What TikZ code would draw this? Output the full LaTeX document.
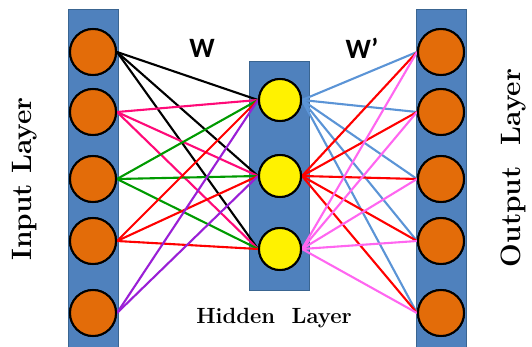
\documentclass[tikz,border=0pt]{standalone}
\usepackage{fontspec}
\usepackage{tikz}
\usetikzlibrary{positioning}
\newfontfamily\wfont{Carlito}
\definecolor{colfill}{HTML}{4F81BD}
\definecolor{colline}{HTML}{3A6591}
\definecolor{nodeorange}{HTML}{E36C09}
\definecolor{edgepink}{HTML}{FF0A78}
\definecolor{edgegreen}{HTML}{009A00}
\definecolor{edgepurple}{HTML}{9A1FD6}
\definecolor{edgeblue}{HTML}{5B94D6}
\definecolor{edgeviolet}{HTML}{FF66F0}

\begin{document}
\begin{tikzpicture}[x=1pt,y=-1pt]
\tikzstyle{col}=[draw=colline,fill=colfill,line width=1pt]
\tikzstyle{unit}=[circle,draw=black,line width=2pt,fill=nodeorange,minimum size=46pt,inner sep=0pt]
\tikzstyle{hunit}=[circle,draw=black,line width=2pt,fill=yellow,minimum size=42pt,inner sep=0pt]
\tikzstyle{wire}=[line width=2.1pt]
\tikzstyle{lbl}=[font=\bfseries\fontsize{28}{28}\selectfont,rotate=90]
\useasboundingbox (0,0) rectangle (532,347);
% columns
\draw[col] (68,10) rectangle (118,347);
\draw[col] (249,62) rectangle (309,290);
\draw[col] (416,10) rectangle (466,347);
% units
\foreach \i/\y in {1/52,2/112,3/179,4/241,5/313} {
  \coordinate (pin\i) at (93,\y);
  \coordinate (pout\i) at (441,\y);
}
\foreach \j/\y in {1/100,2/176,3/249}
  \coordinate (phid\j) at (280,\y);
\foreach \i in {1,...,5} {
  \node[unit] (in\i) at (pin\i) {};
  \node[unit] (out\i) at (pout\i) {};
}
\foreach \j in {1,2,3}
  \node[hunit] (hid\j) at (phid\j) {};
% weights W
\foreach \i/\c in {1/black,2/edgepink,3/edgegreen,4/red}
  \foreach \j in {1,2,3}
    \draw[wire,\c] (in\i.east) -- (hid\j.west);
\foreach \j in {1,2}
  \draw[wire,edgepurple] (in5.east) -- (hid\j.west);
% weights W'
\foreach \j/\c in {1/edgeblue,2/red,3/edgeviolet}
  \foreach \i in {1,...,5}
    \draw[wire,\c] (hid\j.east) -- (out\i.west);
% redraw units on top
\foreach \i in {1,...,5} {
  \node[unit] at (pin\i) {};
  \node[unit] at (pout\i) {};
}
\foreach \j in {1,2,3}
  \node[hunit] at (phid\j) {};
% labels
\node[lbl] (inlbl) at (25,179) {Input Layer};
\node[lbl] (outlbl) at (514,168) {Output~~Layer};
\node[font=\bfseries\fontsize{22}{22}\selectfont] (hidlbl) at (274,318) {Hidden~~Layer};
\node[font=\wfont\bfseries\fontsize{28}{28}\selectfont] (wlbl) at (202,48) {W};
\node[font=\wfont\bfseries\fontsize{28}{28}\selectfont] (wplbl) at (362,48) {W’};
\end{tikzpicture}
\end{document}
